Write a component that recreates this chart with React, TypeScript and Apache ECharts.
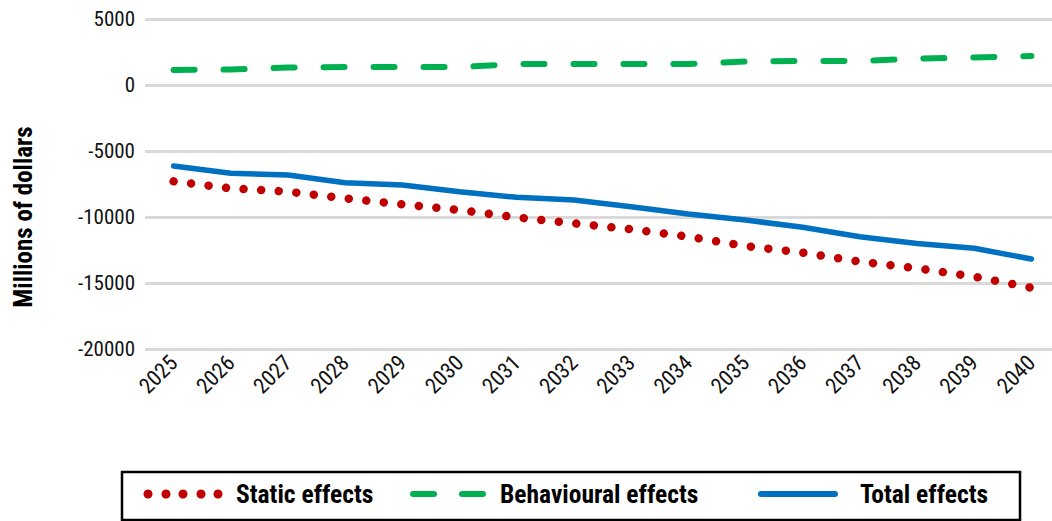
import React, { useEffect, useRef } from "react";
import * as echarts from "echarts";

// Fiscal years on the category axis
const years = [
  "2025", "2026", "2027", "2028", "2029", "2030", "2031", "2032",
  "2033", "2034", "2035", "2036", "2037", "2038", "2039", "2040",
];

// Millions of dollars
const staticEffects = [
  -7300, -7830, -8080, -8590, -9040, -9470, -10030, -10480,
  -10930, -11490, -12200, -12700, -13380, -13890, -14520, -15360,
];
const behaviouralEffects = [
  1140, 1170, 1330, 1360, 1360, 1360, 1590, 1590,
  1590, 1590, 1780, 1820, 1820, 2000, 2080, 2200,
];
const totalEffects = [
  -6140, -6690, -6820, -7400, -7575, -8080, -8510, -8710,
  -9220, -9770, -10230, -10780, -11490, -12000, -12370, -13180,
];

const yTicks = { min: -20000, max: 5000, interval: 5000 };

const FONT = '"Roboto Condensed", "Liberation Sans Narrow", "DejaVu Sans Condensed", Roboto, sans-serif';

const RED = "#c00000";
const GREEN = "#00b050";
const BLUE = "#0070c0";

export default function App() {
  const ref = useRef<HTMLDivElement>(null);

  useEffect(() => {
    document.body.style.margin = "0";
    document.body.style.overflow = "hidden";
    if (!ref.current) return;
    const chart = echarts.init(ref.current, undefined, { renderer: "svg" });

    const legendY = 494;
    const legendLabel = (x: number, text: string) => ({
      type: "text",
      x,
      y: legendY,
      style: {
        text,
        fill: "#000",
        fontSize: 25.5,
        fontWeight: "bold",
        fontFamily: FONT,
        align: "left",
        verticalAlign: "middle",
      },
    });
    const staticKeyDots = [148, 166, 183, 201, 218].map((cx) => ({
      type: "circle",
      shape: { cx, cy: legendY, r: 4.5 },
      style: { fill: RED },
    }));

    chart.setOption({
      animation: false,
      grid: { left: 145, right: 0, top: 19, bottom: 172 },
      xAxis: {
        type: "category",
        data: years,
        boundaryGap: true,
        axisLine: { show: false },
        axisTick: { show: false },
        axisLabel: {
          interval: 0,
          rotate: 45,
          margin: 10,
          color: "#111",
          fontSize: 22,
          fontFamily: FONT,
        },
      },
      yAxis: {
        type: "value",
        min: yTicks.min,
        max: yTicks.max,
        interval: yTicks.interval,
        axisLine: { show: false },
        axisTick: { show: false },
        axisLabel: {
          margin: 10,
          color: "#111",
          fontSize: 21,
          fontFamily: FONT,
          formatter: (v: number) => String(v),
        },
        splitLine: { lineStyle: { color: "#d9d9d9", width: 3 } },
      },
      graphic: [
        {
          type: "rect",
          shape: { x: 122, y: 472, width: 898, height: 48 },
          style: { fill: "none", stroke: "#000", lineWidth: 2.5 },
          silent: true,
        },
        {
          type: "text",
          x: 23,
          y: 217,
          rotation: Math.PI / 2,
          style: {
            text: "Millions of dollars",
            fill: "#000",
            fontSize: 25,
            fontWeight: "bold",
            fontFamily: FONT,
            align: "center",
            verticalAlign: "middle",
          },
        },
        // key: static effects
        ...staticKeyDots,
        legendLabel(236, "Static effects"),
        // key: behavioural effects
        {
          type: "line",
          shape: { x1: 413, y1: legendY, x2: 434, y2: legendY },
          style: { stroke: GREEN, lineWidth: 6, lineCap: "round" },
        },
        {
          type: "line",
          shape: { x1: 462, y1: legendY, x2: 483, y2: legendY },
          style: { stroke: GREEN, lineWidth: 6, lineCap: "round" },
        },
        legendLabel(500, "Behavioural effects"),
        // key: total effects
        {
          type: "line",
          shape: { x1: 761, y1: legendY, x2: 835, y2: legendY },
          style: { stroke: BLUE, lineWidth: 6, lineCap: "round" },
        },
        legendLabel(860, "Total effects"),
      ],
      series: [
        {
          name: "Static effects",
          type: "line",
          data: staticEffects,
          symbol: "none",
          lineStyle: { color: RED, width: 8.5, type: [0.01, 17.6], cap: "round" },
        },
        {
          name: "Behavioural effects",
          type: "line",
          data: behaviouralEffects,
          symbol: "none",
          lineStyle: { color: GREEN, width: 6, type: [21, 29], cap: "round" },
        },
        {
          name: "Total effects",
          type: "line",
          data: totalEffects,
          symbol: "none",
          lineStyle: { color: BLUE, width: 5.5, cap: "round" },
        },
      ],
    });

    return () => chart.dispose();
  }, []);

  // the plot area runs slightly past the visible right edge
  return (
    <div style={{ width: 1052, height: 521, overflow: "hidden" }}>
      <div ref={ref} style={{ width: 1060, height: 521 }} />
    </div>
  );
}
